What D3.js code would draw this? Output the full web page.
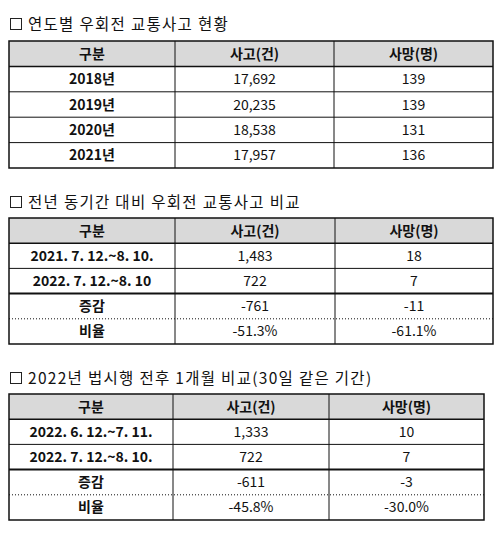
<!DOCTYPE html>
<html><head><meta charset="utf-8">
<script src="https://cdn.jsdelivr.net/npm/d3@7"></script>
<style>body{margin:0;background:#fff}</style>
</head><body>
<script>
// data
const headers = ["구분", "사고(건)", "사망(명)"];

const t1Title = "연도별 우회전 교통사고 현황";
const t1Labels = ["2018년", "2019년", "2020년", "2021년"];
const t1Acc = ["17,692", "20,235", "18,538", "17,957"];
const t1Dead = ["139", "139", "131", "136"];

const t2Title = "전년 동기간 대비 우회전 교통사고 비교";
const t2Labels = ["2021. 7. 12.~8. 10.", "2022. 7. 12.~8. 10", "증감", "비율"];
const t2Acc = ["1,483", "722", "-761", "-51.3%"];
const t2Dead = ["18", "7", "-11", "-61.1%"];

const t3Title = "2022년 법시행 전후 1개월 비교(30일 같은 기간)";
const t3Labels = ["2022. 6. 12.~7. 11.", "2022. 7. 12.~8. 10.", "증감", "비율"];
const t3Acc = ["1,333", "722", "-611", "-45.8%"];
const t3Dead = ["10", "7", "-3", "-30.0%"];

const font = "'Noto Sans CJK KR', sans-serif";
const svg = d3.select("body").append("svg").attr("width", 496).attr("height", 535);

function drawTable(cfg) {
  const g = svg.append("g");
  // title
  g.append("rect").attr("x", 10.5).attr("y", cfg.titleY - 11.5).attr("width", 11).attr("height", 11)
    .attr("fill", "none").attr("stroke", "#222");
  g.append("text").attr("x", 28).attr("y", cfg.titleY).attr("font-family", font)
    .attr("font-size", 15.5).attr("letter-spacing", 1.3).attr("fill", "#111").text(cfg.title);

  const rows = ["head"].concat(cfg.labels.map((d, i) => i));
  const y = d3.scaleBand().domain(rows).range([cfg.top, cfg.bottom]);
  const xs = [cfg.x0, cfg.c1, cfg.c2, cfg.x1];

  g.append("rect").attr("x", cfg.x0).attr("y", cfg.top).attr("width", cfg.x1 - cfg.x0)
    .attr("height", y.bandwidth()).attr("fill", "#d9d9d9");

  const cells = [headers].concat(cfg.labels.map((d, i) => [d, cfg.acc[i], cfg.dead[i]]));
  cells.forEach((row, ri) => {
    row.forEach((v, ci) => {
      g.append("text").attr("x", (xs[ci] + xs[ci + 1]) / 2)
        .attr("y", y(rows[ri]) + y.bandwidth() / 2 + 5)
        .attr("text-anchor", "middle").attr("font-family", font).attr("font-size", 14)
        .attr("font-weight", (ri === 0 || ci === 0) ? "bold" : "normal")
        .attr("fill", "#111").text(v);
    });
  });

  // horizontal lines
  rows.forEach((r, i) => {
    if (i === 0) return;
    const yy = y(r);
    let w = 1, dash = null;
    if (i === 1) w = 1.5;
    if (cfg.thick && i === 3) w = 2;
    if (cfg.dotted && i === 4) dash = "1,2";
    g.append("line").attr("x1", cfg.x0).attr("x2", cfg.x1).attr("y1", yy).attr("y2", yy)
      .attr("stroke", "#111").attr("stroke-width", w).attr("stroke-dasharray", dash);
  });
  // vertical dividers
  [cfg.c1, cfg.c2].forEach(x => {
    g.append("line").attr("x1", x).attr("x2", x).attr("y1", cfg.top).attr("y2", cfg.bottom)
      .attr("stroke", "#111").attr("stroke-width", 1);
  });
  g.append("rect").attr("x", cfg.x0).attr("y", cfg.top).attr("width", cfg.x1 - cfg.x0)
    .attr("height", cfg.bottom - cfg.top).attr("fill", "none").attr("stroke", "#111").attr("stroke-width", 1.5);
}

drawTable({title: t1Title, titleY: 30, labels: t1Labels, acc: t1Acc, dead: t1Dead,
  top: 41, bottom: 168, x0: 9, x1: 493, c1: 175, c2: 334});
drawTable({title: t2Title, titleY: 208, labels: t2Labels, acc: t2Acc, dead: t2Dead,
  top: 218, bottom: 344, x0: 9, x1: 493, c1: 175, c2: 335, thick: true, dotted: true});
drawTable({title: t3Title, titleY: 384, labels: t3Labels, acc: t3Acc, dead: t3Dead,
  top: 394, bottom: 520, x0: 9, x1: 484, c1: 173, c2: 329, thick: true, dotted: true});
</script>
</body></html>
